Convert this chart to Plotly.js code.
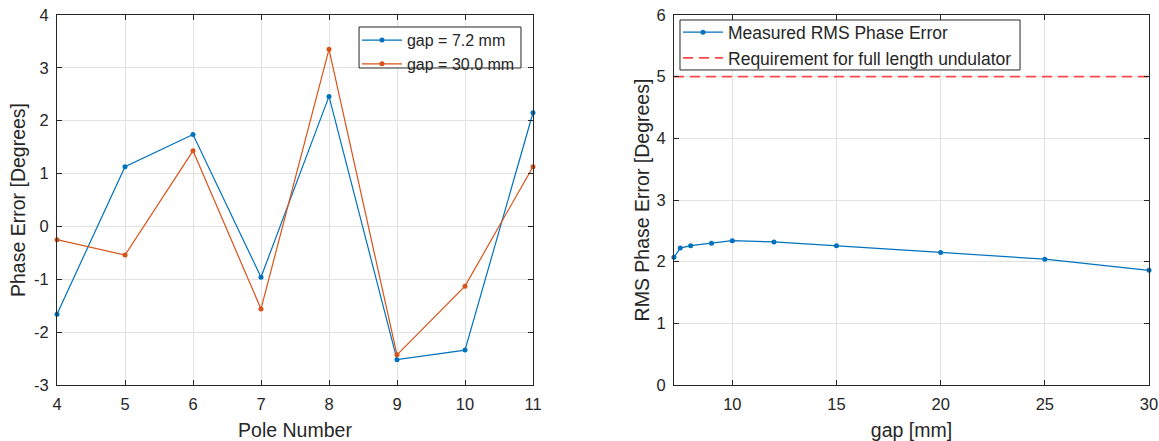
<!DOCTYPE html>
<html><head><meta charset="utf-8">
<script src="https://cdn.plot.ly/plotly-3.0.1.min.js"></script>
<style>body{margin:0;background:#fff}#c{width:1159px;height:441px}</style>
</head><body><div id="c"></div>
<script>
const poles = [4, 5, 6, 7, 8, 9, 10, 11];
const phaseGap72 = [-1.66, 1.13, 1.74, -0.96, 2.46, -2.52, -2.34, 2.15];
const phaseGap30 = [-0.25, -0.54, 1.43, -1.56, 3.35, -2.43, -1.13, 1.13];
const gaps = [7.2, 7.5, 8, 9, 10, 12, 15, 20, 25, 30];
const rmsError = [2.07, 2.22, 2.26, 2.30, 2.34, 2.32, 2.26, 2.15, 2.04, 1.86];
const reqX = [7.2, 30];
const requirement = [5, 5];
const leftYTicks = [-3, -2, -1, 0, 1, 2, 3, 4];
const rightYTicks = [0, 1, 2, 3, 4, 5, 6];
const rightXTicks = [10, 15, 20, 25, 30];

const blue = '#0072BD', orange = '#D95319', red = '#FF4545';
const fam = 'Liberation Sans, Arial, sans-serif';
const txt = '#262626';
const tickFont = {family: fam, size: 16.5, color: txt};
const titleFont = {family: fam, size: 19.5, color: txt};

const traces = [
  {x: poles, y: phaseGap72, name: 'gap = 7.2 mm', mode: 'lines+markers', cliponaxis: false,
   line: {color: blue, width: 1.2}, marker: {color: blue, size: 5}, xaxis: 'x', yaxis: 'y', legend: 'legend'},
  {x: poles, y: phaseGap30, name: 'gap = 30.0 mm', mode: 'lines+markers', cliponaxis: false,
   line: {color: orange, width: 1.2}, marker: {color: orange, size: 5}, xaxis: 'x', yaxis: 'y', legend: 'legend'},
  {x: gaps, y: rmsError, name: 'Measured RMS Phase Error', mode: 'lines+markers', cliponaxis: false,
   line: {color: blue, width: 1.2}, marker: {color: blue, size: 5}, xaxis: 'x2', yaxis: 'y2', legend: 'legend2'},
  {x: reqX, y: requirement, name: 'Requirement for full length undulator', mode: 'lines',
   line: {color: red, width: 1.8, dash: '10px,6px'}, xaxis: 'x2', yaxis: 'y2', legend: 'legend2'}
];

const axBase = {showline: true, linecolor: txt, linewidth: 1, mirror: 'ticks', ticks: 'inside',
  ticklen: 5, tickcolor: txt, showgrid: true, gridcolor: '#e2e2e2', zeroline: false,
  tickfont: tickFont, tickmode: 'array'};
const lab = a => a.map(v => String(v));

const boxStyle = {type: 'rect', xref: 'paper', yref: 'paper', layer: 'above',
  line: {color: txt, width: 1}, fillcolor: '#fff'};

const layout = {
  width: 1159, height: 441, showlegend: true,
  margin: {l: 57, r: 10, t: 15, b: 56},
  paper_bgcolor: '#fff', plot_bgcolor: '#fff', font: tickFont,
  xaxis: Object.assign({}, axBase, {domain: [0, 0.4359], range: [4, 11], tickvals: poles, ticktext: lab(poles),
    ticklabelstandoff: 4, title: {text: 'Pole Number', font: titleFont, standoff: 12}}),
  yaxis: Object.assign({}, axBase, {range: [-3, 4], tickvals: leftYTicks, ticktext: lab(leftYTicks),
    ticklabelstandoff: 4, title: {text: 'Phase Error [Degrees]', font: titleFont, standoff: 3}}),
  xaxis2: Object.assign({}, axBase, {domain: [0.565, 1], range: [7.2, 30], tickvals: rightXTicks, ticktext: lab(rightXTicks), anchor: 'y2',
    ticklabelstandoff: 4, title: {text: 'gap [mm]', font: titleFont, standoff: 12}}),
  yaxis2: Object.assign({}, axBase, {range: [0, 6], tickvals: rightYTicks, ticktext: lab(rightYTicks), anchor: 'x2',
    ticklabelstandoff: 4, title: {text: 'RMS Phase Error [Degrees]', font: titleFont, standoff: 1}}),
  shapes: [
    Object.assign({}, boxStyle, {x0: 0.2766, x1: 0.4249, y0: 0.8568, y1: 0.9676}),
    Object.assign({}, boxStyle, {x0: 0.5705, x1: 0.8819, y0: 0.8514, y1: 0.9865})
  ],
  legend: {x: 0.2747, y: 0.978, xanchor: 'left', yanchor: 'top', borderwidth: 0,
    bgcolor: 'rgba(0,0,0,0)', font: {family: fam, size: 16, color: txt}, tracegroupgap: 0, itemwidth: 40},
  legend2: {x: 0.5687, y: 1.0019, xanchor: 'left', yanchor: 'top', borderwidth: 0,
    bgcolor: 'rgba(0,0,0,0)', font: {family: fam, size: 17.5, color: txt}, tracegroupgap: 0, itemwidth: 40}
};

Plotly.newPlot('c', traces, layout, {displayModeBar: false, staticPlot: true});
</script></body></html>
